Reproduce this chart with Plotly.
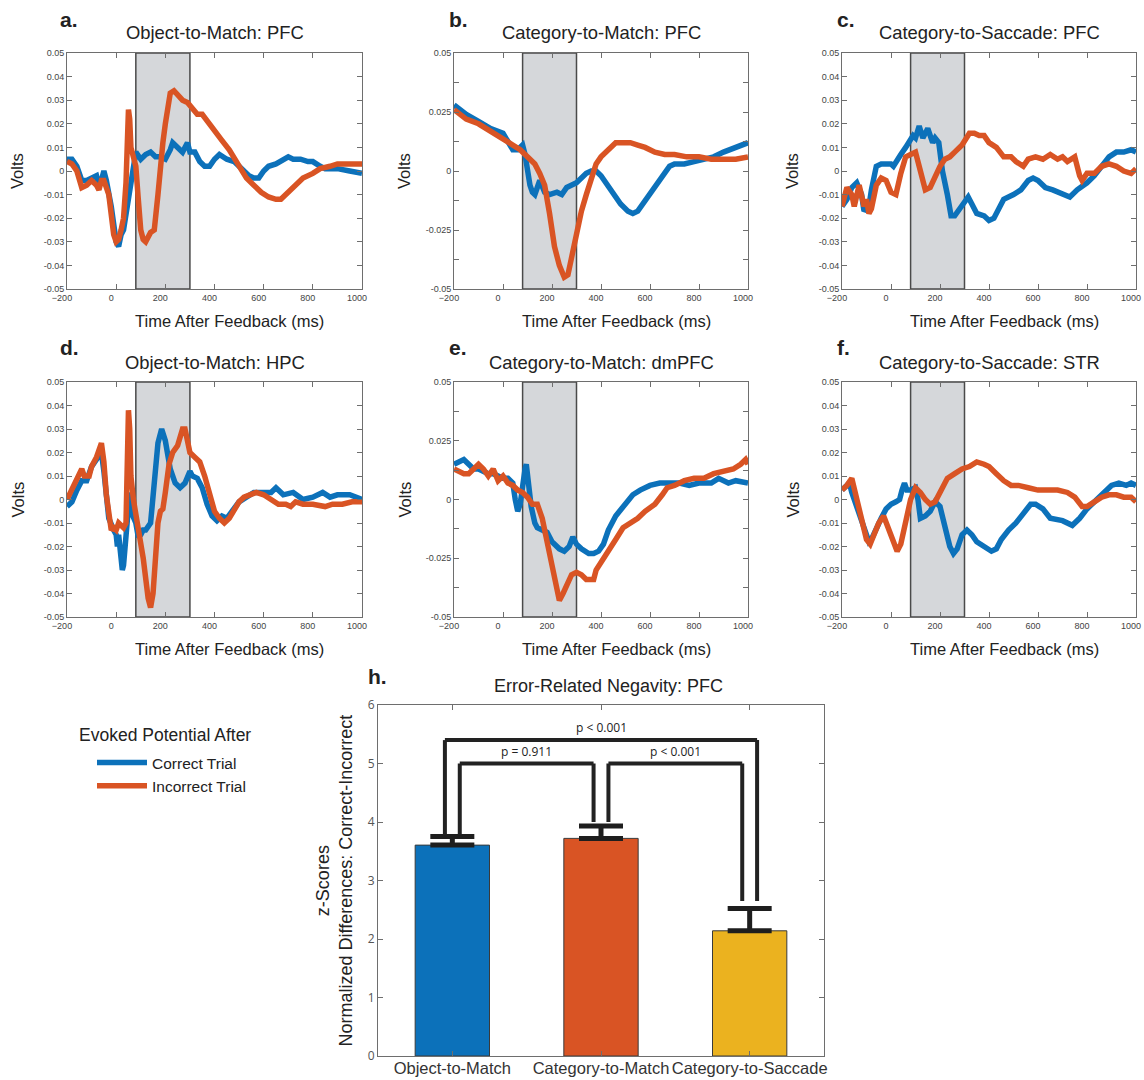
import plotly.graph_objects as go

W, H = 1144, 1080
BLUE = "#0C71BA"
ORANGE = "#D95424"
YELLOW = "#EBB21F"

# ---------------- data: evoked potentials (Volts) ----------------
a_blue_t = [-200,-180,-160,-140,-120,-100,-80,-70,-60,-50,-40,-20,-10,0,10,20,30,40,50,60,70,80,100,120,140,160,180,200,220,230,250,270,290,300,320,340,360,380,400,420,450,480,500,520,540,560,580,600,620,650,680,700,720,750,780,800,830,850,880,900,950,1000]
a_blue_v = [0.005,0.005,0.002,-0.004,-0.004,-0.003,-0.002,-0.006,-0.004,0.0,-0.004,-0.015,-0.025,-0.030,-0.032,-0.027,-0.025,-0.018,-0.010,-0.003,0.003,0.008,0.005,0.007,0.008,0.006,0.006,0.005,0.009,0.012,0.010,0.008,0.012,0.008,0.008,0.004,0.002,0.002,0.005,0.007,0.005,0.004,0.002,0.0,-0.002,-0.003,-0.003,0.0,0.002,0.003,0.005,0.006,0.005,0.005,0.004,0.004,0.002,0.001,0.001,0.001,0.0,-0.001]
a_orng_t = [-200,-180,-160,-140,-120,-100,-80,-70,-60,-50,-30,-20,-10,0,10,20,30,40,45,50,55,60,70,80,90,100,110,120,140,155,170,180,190,200,220,235,250,270,290,310,330,350,370,400,430,460,500,530,560,590,620,650,670,700,730,760,800,830,870,900,950,1000]
a_orng_v = [0.004,0.003,0.0,-0.007,-0.006,-0.004,-0.006,-0.008,-0.004,-0.004,-0.010,-0.020,-0.027,-0.030,-0.029,-0.025,-0.020,-0.005,0.015,0.026,0.022,0.010,0.006,0.002,-0.012,-0.025,-0.029,-0.030,-0.026,-0.025,-0.010,0.005,0.012,0.020,0.033,0.034,0.032,0.030,0.029,0.026,0.024,0.024,0.021,0.017,0.013,0.009,0.002,-0.003,-0.006,-0.009,-0.011,-0.012,-0.012,-0.009,-0.006,-0.003,-0.001,0.001,0.002,0.003,0.003,0.003]

b_blue_t = [-200,-150,-100,-50,0,20,40,60,80,90,100,110,120,130,140,150,170,190,220,240,260,280,300,320,340,360,380,400,420,450,480,510,530,550,570,600,630,660,680,700,740,780,820,860,900,950,1000]
b_blue_v = [0.028,0.024,0.021,0.018,0.016,0.013,0.009,0.009,0.011,0.007,0.0,-0.006,-0.009,-0.010,-0.007,-0.004,-0.009,-0.010,-0.009,-0.010,-0.007,-0.006,-0.005,-0.003,-0.001,0.0,0.0,-0.002,-0.005,-0.010,-0.014,-0.017,-0.018,-0.017,-0.014,-0.009,-0.005,-0.001,0.002,0.003,0.003,0.004,0.005,0.006,0.008,0.010,0.012]
b_orng_t = [-200,-150,-100,-50,0,40,70,100,130,150,170,190,210,230,250,265,280,300,320,340,360,380,400,430,460,490,520,550,580,620,660,700,750,800,850,900,950,1000]
b_orng_v = [0.026,0.022,0.020,0.017,0.014,0.011,0.009,0.006,0.003,-0.001,-0.006,-0.018,-0.032,-0.040,-0.045,-0.044,-0.036,-0.026,-0.017,-0.010,-0.003,0.003,0.006,0.009,0.012,0.012,0.012,0.011,0.010,0.008,0.007,0.007,0.006,0.006,0.005,0.005,0.005,0.006]

c_blue_t = [-200,-180,-160,-140,-120,-110,-90,-80,-60,-40,-20,0,10,20,40,60,80,90,100,115,130,150,170,180,195,210,230,245,260,280,300,315,330,350,380,400,420,440,460,500,530,560,580,600,630,660,700,730,760,800,830,860,890,920,950,980,1000]
c_blue_v = [-0.015,-0.012,-0.007,-0.005,-0.010,-0.017,-0.015,-0.008,0.002,0.003,0.003,0.003,0.002,0.004,0.007,0.010,0.013,0.015,0.014,0.019,0.014,0.018,0.012,0.014,0.012,0.0,-0.010,-0.019,-0.019,-0.016,-0.013,-0.011,-0.014,-0.018,-0.019,-0.021,-0.020,-0.016,-0.012,-0.010,-0.008,-0.004,-0.003,-0.004,-0.007,-0.008,-0.010,-0.011,-0.008,-0.005,-0.002,0.002,0.006,0.008,0.008,0.009,0.008]
c_orng_t = [-200,-180,-160,-150,-130,-110,-100,-90,-80,-60,-40,-20,0,20,40,60,80,100,120,140,160,180,200,220,240,260,290,320,340,360,380,400,430,460,490,510,540,560,590,620,650,680,700,720,750,770,780,800,830,860,890,920,950,980,1000]
c_orng_v = [-0.015,-0.007,-0.010,-0.015,-0.006,-0.015,-0.012,-0.018,-0.016,-0.006,-0.003,-0.004,-0.009,-0.010,-0.001,0.006,0.007,0.008,0.0,-0.008,-0.007,-0.002,0.002,0.005,0.006,0.008,0.011,0.016,0.016,0.015,0.015,0.012,0.010,0.006,0.006,0.004,0.002,0.005,0.006,0.005,0.007,0.005,0.006,0.004,0.006,-0.002,-0.004,-0.001,-0.001,0.002,0.003,0.002,0.0,-0.001,0.001]

d_blue_t = [-200,-180,-160,-140,-120,-100,-80,-60,-50,-40,-30,-10,0,5,10,20,25,30,40,50,55,60,80,90,100,110,120,140,150,170,185,200,220,240,260,280,300,310,330,350,370,390,410,430,450,480,500,530,560,600,630,650,680,720,760,800,840,870,900,950,1000]
d_blue_v = [-0.003,-0.001,0.004,0.008,0.008,0.014,0.017,0.020,0.012,0.0,-0.008,-0.013,-0.015,-0.020,-0.015,-0.025,-0.030,-0.028,-0.015,0.0,0.003,-0.005,-0.010,-0.016,-0.015,-0.013,-0.013,-0.010,0.0,0.024,0.030,0.025,0.013,0.007,0.005,0.007,0.012,0.010,0.009,0.005,-0.002,-0.007,-0.009,-0.007,-0.008,-0.004,-0.001,0.001,0.003,0.003,0.003,0.005,0.002,0.003,0.0,0.001,0.003,0.001,0.002,0.002,0.0]
d_orng_t = [-200,-180,-160,-140,-130,-110,-100,-80,-60,-50,-40,-30,-20,-10,0,10,20,30,40,45,50,55,60,70,90,110,130,140,150,160,170,180,190,200,215,230,250,270,280,290,300,320,340,360,380,400,420,440,460,480,500,520,550,570,600,630,660,690,710,730,760,800,850,880,920,960,1000]
d_orng_v = [0.0,0.004,0.008,0.013,0.010,0.010,0.014,0.018,0.024,0.016,0.002,-0.008,-0.013,-0.012,-0.013,-0.010,-0.011,-0.012,-0.010,0.010,0.038,0.030,0.010,0.0,-0.012,-0.025,-0.042,-0.046,-0.040,-0.020,-0.010,-0.005,-0.004,0.003,0.015,0.020,0.023,0.030,0.030,0.025,0.020,0.018,0.016,0.010,0.002,-0.005,-0.008,-0.010,-0.008,-0.004,-0.001,0.001,0.002,0.003,0.002,0.0,-0.002,-0.002,-0.003,-0.001,-0.002,-0.002,-0.003,-0.002,-0.002,-0.001,-0.001]

e_blue_t = [-200,-180,-160,-140,-120,-100,-80,-60,-40,-20,0,20,40,50,60,70,80,90,95,105,115,130,140,160,180,200,230,250,270,285,300,320,350,370,390,410,430,460,500,530,560,600,640,680,720,760,800,850,880,920,950,1000]
e_blue_v = [0.015,0.016,0.017,0.015,0.013,0.013,0.012,0.011,0.011,0.010,0.009,0.009,0.007,0.0,-0.005,-0.002,0.008,0.013,0.015,0.005,-0.003,-0.010,-0.012,-0.013,-0.014,-0.018,-0.021,-0.022,-0.020,-0.016,-0.019,-0.021,-0.023,-0.023,-0.022,-0.019,-0.013,-0.007,-0.002,0.002,0.004,0.006,0.007,0.007,0.007,0.006,0.007,0.007,0.009,0.007,0.008,0.007]
e_orng_t = [-200,-180,-160,-140,-120,-100,-80,-60,-40,-20,0,20,40,60,80,100,120,140,160,180,200,220,230,245,260,280,300,320,340,370,380,400,430,460,490,520,550,580,620,650,670,700,740,780,820,860,900,940,970,990,1000]
e_orng_v = [0.013,0.012,0.011,0.011,0.013,0.015,0.013,0.010,0.013,0.008,0.010,0.007,0.006,0.004,0.003,0.001,-0.002,-0.002,-0.008,-0.018,-0.030,-0.040,-0.043,-0.040,-0.036,-0.032,-0.031,-0.032,-0.034,-0.034,-0.030,-0.027,-0.022,-0.017,-0.012,-0.010,-0.008,-0.005,-0.002,0.002,0.005,0.006,0.008,0.009,0.009,0.011,0.012,0.013,0.015,0.017,0.015]

f_blue_t = [-200,-180,-170,-160,-150,-130,-110,-90,-80,-60,-40,-20,0,20,35,45,55,65,80,100,110,120,140,160,180,200,220,240,255,270,290,310,330,350,380,410,430,450,480,510,540,570,590,620,650,700,740,770,800,840,870,900,930,960,980,1000]
f_blue_v = [0.004,0.006,0.007,0.003,0.0,-0.006,-0.012,-0.018,-0.017,-0.012,-0.008,-0.004,-0.002,-0.001,0.0,0.004,0.007,0.004,0.004,0.005,0.0,-0.008,-0.007,-0.005,-0.001,-0.003,-0.012,-0.020,-0.023,-0.021,-0.015,-0.013,-0.015,-0.018,-0.020,-0.022,-0.021,-0.017,-0.013,-0.010,-0.006,-0.002,-0.002,-0.004,-0.008,-0.009,-0.011,-0.008,-0.004,0.0,0.003,0.006,0.007,0.006,0.007,0.006]
f_orng_t = [-200,-180,-160,-140,-120,-100,-85,-70,-50,-30,-10,10,25,40,60,80,100,120,140,160,180,200,230,260,290,320,350,380,400,430,460,490,520,560,600,640,680,720,750,780,800,830,860,890,920,950,980,1000]
f_orng_v = [0.004,0.006,0.009,0.0,-0.008,-0.017,-0.019,-0.015,-0.010,-0.007,-0.012,-0.018,-0.022,-0.019,-0.008,0.0,0.005,0.003,0.0,-0.002,-0.001,0.003,0.009,0.011,0.013,0.014,0.016,0.015,0.014,0.011,0.008,0.006,0.006,0.005,0.004,0.004,0.004,0.003,0.001,-0.003,-0.003,-0.001,0.001,0.002,0.002,0.001,0.001,-0.001]

panel_titles = ["Object-to-Match: PFC", "Category-to-Match: PFC", "Category-to-Saccade: PFC",
                "Object-to-Match: HPC", "Category-to-Match: dmPFC", "Category-to-Saccade: STR"]
panel_letters = ["a.", "b.", "c.", "d.", "e.", "f."]
window_ms = [80, 300]  # shaded analysis window

x_ticks = [-200, 0, 200, 400, 600, 800, 1000]
y_ticks_fine = [0.05, 0.04, 0.03, 0.02, 0.01, 0, -0.01, -0.02, -0.03, -0.04, -0.05]
y_ticklabels_fine = ["0.05", "0.04", "0.03", "0.02", "0.01", "0", "-0.01", "-0.02", "-0.03", "-0.04", "-0.05"]
y_ticks_coarse = [0.05, 0.0375, 0.025, 0.0125, 0, -0.0125, -0.025, -0.0375, -0.05]
y_ticklabels_coarse = ["0.05", "", "0.025", "", "0", "", "-0.025", "", "-0.05"]

# ---------------- data: bar chart ----------------
bar_categories = ["Object-to-Match", "Category-to-Match", "Category-to-Saccade"]
bar_values = [3.605, 3.72, 2.14]
bar_errors = [0.145, 0.21, 0.38]
bar_colors = [BLUE, ORANGE, YELLOW]
p_labels = ["p < 0.001", "p = 0.911", "p < 0.001"]

panels = [
    (a_blue_t, a_blue_v, a_orng_t, a_orng_v, "fine"),
    (b_blue_t, b_blue_v, b_orng_t, b_orng_v, "coarse"),
    (c_blue_t, c_blue_v, c_orng_t, c_orng_v, "fine"),
    (d_blue_t, d_blue_v, d_orng_t, d_orng_v, "fine"),
    (e_blue_t, e_blue_v, e_orng_t, e_orng_v, "coarse"),
    (f_blue_t, f_blue_v, f_orng_t, f_orng_v, "fine"),
]

# ---------------- layout geometry (pixels) ----------------
col_px = [(67, 362), (454, 748), (842, 1136)]
row_px = [(53, 289), (382, 617)]
bar_px_x = (378, 824)
bar_px_y = (705, 1056)

def px_x(p):
    return p / W

def px_y(p):
    return 1 - p / H

FONT = "Arial, Liberation Sans, sans-serif"
AX_COLOR = "#6e6e6e"
TICK_FONT = dict(family=FONT, size=9, color="#444")

def note(text, xp, yp, size=16, angle=0, xanchor="center", bold=False, family=FONT):
    return dict(text=f"<b>{text}</b>" if bold else text, x=px_x(xp), y=px_y(yp),
                xref="paper", yref="paper", showarrow=False, textangle=angle,
                xanchor=xanchor, yanchor="middle",
                font=dict(size=size, family=family, color="#222"))

fig = go.Figure()
layout = dict(width=W, height=H, margin=dict(l=0, r=0, t=0, b=0, autoexpand=False),
              paper_bgcolor="white", plot_bgcolor="white",
              font=dict(family=FONT, color="#222"))
shapes = []
annotations = []

title_y = [32, 362]
letter_y = [20, 348]
letter_x = [58, 447, 835]

for i, (bt, bv, ot, ov, ytype) in enumerate(panels):
    k = i + 1
    xa = "x" if k == 1 else f"x{k}"
    ya = "y" if k == 1 else f"y{k}"
    r, c = divmod(i, 3)
    x0p, x1p = col_px[c]
    y0p, y1p = row_px[r]
    fig.add_trace(go.Scatter(x=bt, y=bv, mode="lines", line=dict(color=BLUE, width=5.5),
                             name="Correct Trial", showlegend=(k == 1), xaxis=xa, yaxis=ya,
                             legendrank=1))
    fig.add_trace(go.Scatter(x=ot, y=ov, mode="lines", line=dict(color=ORANGE, width=5.5),
                             name="Incorrect Trial", showlegend=(k == 1), xaxis=xa, yaxis=ya,
                             legendrank=2))
    xk = "xaxis" if k == 1 else f"xaxis{k}"
    yk = "yaxis" if k == 1 else f"yaxis{k}"
    if ytype == "fine":
        tv, tt = y_ticks_fine, y_ticklabels_fine
    else:
        tv, tt = y_ticks_coarse, y_ticklabels_coarse
    layout[xk] = dict(domain=[px_x(x0p), px_x(x1p)], anchor=ya, range=[-200, 1000],
                      tickvals=x_ticks, ticks="inside", ticklen=5, tickcolor=AX_COLOR,
                      showline=True, linecolor=AX_COLOR, linewidth=1, mirror="ticks",
                      showgrid=False, zeroline=False, tickfont=TICK_FONT,
                      ticklabeloverflow="allow", ticklabelshift=-5, tickangle=0)
    layout[yk] = dict(domain=[px_y(y1p), px_y(y0p)], anchor=xa, range=[-0.05, 0.05],
                      tickvals=tv, ticktext=tt, ticks="inside", ticklen=5, tickcolor=AX_COLOR,
                      showline=True, linecolor=AX_COLOR, linewidth=1, mirror="ticks",
                      showgrid=False, zeroline=False, tickfont=TICK_FONT, ticklabeloverflow="allow")
    shapes.append(dict(type="rect", xref=xa, yref=f"{ya} domain", x0=window_ms[0], x1=window_ms[1],
                       y0=0, y1=1, fillcolor="#d5d7da", line=dict(color="#4a4a4a", width=1.5),
                       layer="below"))
    cx = (x0p + x1p) / 2
    annotations.append(note(panel_titles[i], cx, title_y[r], size=18.4))
    annotations.append(note(panel_letters[i], letter_x[c], letter_y[r], size=21, xanchor="left", bold=True))
    annotations.append(note("Volts", x0p - 50, (y0p + y1p) / 2, size=16.5, angle=-90))
    annotations.append(note("Time After Feedback (ms)", cx + 15, y1p + 32, size=16.5))

# ---------------- bar chart ----------------
bar_x = [1, 2, 3]
fig.add_trace(go.Bar(x=bar_x, y=bar_values, width=0.5, marker=dict(color=bar_colors,
                     line=dict(color="#3a3a3a", width=1)),
                     error_y=dict(type="data", array=bar_errors, arrayminus=[0, 0, 0], symmetric=False,
                                  color="#1e1e1e", thickness=5, width=22),
                     showlegend=False, xaxis="x7", yaxis="y7"))
layout["xaxis7"] = dict(domain=[px_x(bar_px_x[0]), px_x(bar_px_x[1])], anchor="y7", range=[0.5, 3.5],
                        tickvals=bar_x, ticktext=bar_categories, ticks="inside", ticklen=5,
                        tickcolor=AX_COLOR, showline=True, linecolor=AX_COLOR, linewidth=1, mirror="ticks",
                        showgrid=False, zeroline=False, ticklabeloverflow="allow", tickangle=0,
                        ticklabelstandoff=-3,
                        tickfont=dict(family=FONT, size=16.5, color="#333"))
layout["yaxis7"] = dict(domain=[px_y(bar_px_y[1]), px_y(bar_px_y[0])], anchor="x7", range=[0, 6],
                        tickvals=[0, 1, 2, 3, 4, 5, 6], ticks="inside", ticklen=5,
                        tickcolor=AX_COLOR, showline=True, linecolor=AX_COLOR, linewidth=1, mirror="ticks",
                        showgrid=False, zeroline=False,
                        tickfont=dict(family="Open Sans, Arial, sans-serif", size=12, color="#555"))

# significance brackets derived from bar tops
tops = [v + e for v, e in zip(bar_values, bar_errors)]
gaps = [0.03, 0.07, 0.13]
feet = [t + g for t, g in zip(tops, gaps)]
outer_y, inner_y = 5.4, 5.0
off = 0.05
brk = dict(color="#222", width=4)
def seg(x0, y0, x1, y1):
    shapes.append(dict(type="line", xref="x7", yref="y7", x0=x0, y0=y0, x1=x1, y1=y1, line=brk))
seg(bar_x[0] - off, feet[0], bar_x[0] - off, outer_y)
seg(bar_x[0] - off, outer_y, bar_x[2] + off, outer_y)
seg(bar_x[2] + off, outer_y, bar_x[2] + off, feet[2])
seg(bar_x[0] + off, feet[0], bar_x[0] + off, inner_y)
seg(bar_x[0] + off, inner_y, bar_x[1] - off, inner_y)
seg(bar_x[1] - off, inner_y, bar_x[1] - off, feet[1])
seg(bar_x[1] + off, feet[1], bar_x[1] + off, inner_y)
seg(bar_x[1] + off, inner_y, bar_x[2] - off, inner_y)
seg(bar_x[2] - off, inner_y, bar_x[2] - off, feet[2])

for txt, xx, yy in [(p_labels[0], 2.0, outer_y), (p_labels[1], 1.5, inner_y), (p_labels[2], 2.5, inner_y)]:
    annotations.append(dict(text=txt, x=xx, y=yy, xref="x7", yref="y7", showarrow=False,
                            xanchor="center", yanchor="bottom", yshift=2,
                            font=dict(size=12, family="Open Sans, Arial, sans-serif", color="#222")))

annotations.append(note("h.", 366, 676, size=21, xanchor="left", bold=True))
annotations.append(note("Error-Related Negavity: PFC", 609, 686, size=18))
annotations.append(note("z-Scores<br>Normalized Differences: Correct-Incorrect", 334,
                        (bar_px_y[0] + bar_px_y[1]) / 2, size=18, angle=-90))

annotations.append(note("Evoked Potential After", 77, 735, size=17.5, xanchor="left"))
layout["legend"] = dict(x=px_x(92), y=px_y(746), xanchor="left", yanchor="top",
                        bgcolor="rgba(0,0,0,0)", font=dict(size=15.5, family=FONT, color="#222"),
                        itemwidth=50, tracegroupgap=0)

layout["shapes"] = shapes
layout["annotations"] = annotations
fig.update_layout(**layout)
fig.write_html("out.html", config={"displayModeBar": False},
               post_script="document.body.style.margin='0px';document.body.style.overflow='hidden';")
